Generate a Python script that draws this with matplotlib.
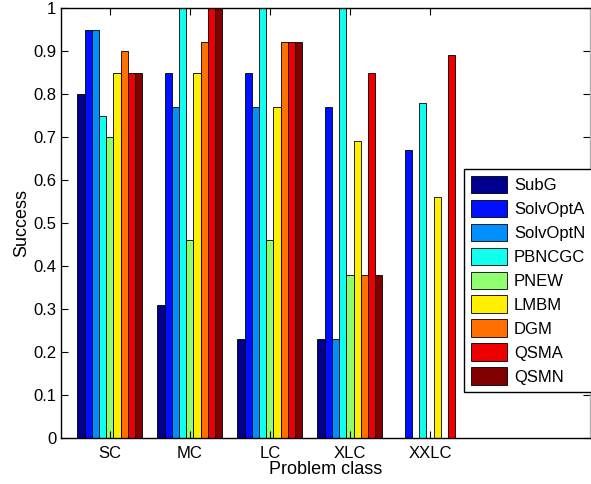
import numpy as np
import matplotlib
matplotlib.use('Agg')
import matplotlib.pyplot as plt

plt.rcParams['font.family'] = ['Liberation Sans', 'DejaVu Sans']

# problem classes and solvers
classes = ['SC', 'MC', 'LC', 'XLC', 'XXLC']
solvers = ['SubG', 'SolvOptA', 'SolvOptN', 'PBNCGC', 'PNEW', 'LMBM', 'DGM', 'QSMA', 'QSMN']

# success rate per solver, one value per class
subg     = [0.80, 0.31, 0.23, 0.23, 0.0]
solvopta = [0.95, 0.85, 0.85, 0.77, 0.67]
solvoptn = [0.95, 0.77, 0.77, 0.23, 0.0]
pbncgc   = [0.75, 1.00, 1.00, 1.00, 0.78]
pnew     = [0.70, 0.46, 0.46, 0.38, 0.0]
lmbm     = [0.85, 0.85, 0.77, 0.69, 0.56]
dgm      = [0.90, 0.92, 0.92, 0.38, 0.0]
qsma     = [0.85, 1.00, 0.92, 0.85, 0.89]
qsmn     = [0.85, 1.00, 0.92, 0.38, 0.0]

series = [subg, solvopta, solvoptn, pbncgc, pnew, lmbm, dgm, qsma, qsmn]

# MATLAB style jet(64) colours picked for 9 series
colors = [(0, 0, 0.5625), (0, 0.0625, 1), (0, 0.5625, 1), (0.0625, 1, 0.9375),
          (0.5625, 1, 0.4375), (1, 0.9375, 0), (1, 0.4375, 0), (0.9375, 0, 0),
          (0.5, 0, 0)]

fig = plt.figure(figsize=(5.91, 4.84), dpi=100)
ax = fig.add_axes([61/591, 1-438/484, 529/591, 430/484])

x = np.arange(1, len(classes) + 1)
w = 0.09
for i, (name, vals) in enumerate(zip(solvers, series)):
    offs = (i - (len(solvers) - 1) / 2) * w
    ax.bar(x + offs, vals, width=w, color=colors[i], edgecolor='black',
           linewidth=0.6, label=name)

ax.set_xlim(0.39, 7.0)
ax.set_ylim(0, 1)
ax.set_yticks(np.arange(0, 1.01, 0.1))
ax.set_yticklabels(['0'] + ['%.1f' % v for v in np.arange(0.1, 0.95, 0.1)] + ['1'])
ax.set_xticks(x)
ax.set_xticklabels(classes)
ax.tick_params(direction='in', length=5, width=0.8, labelsize=12,
               top=True, right=True, colors='black')
ax.tick_params(axis='x', pad=6)
for s in ax.spines.values():
    s.set_linewidth(1.0)
ax.spines['right'].set_color('#b0b0b0')

ax.set_xlabel('Problem class', fontsize=13, labelpad=0)
ax.set_ylabel('Success', fontsize=13, labelpad=2)

leg = ax.legend(loc='upper left', bbox_to_anchor=(464/591, 1-169/484),
                bbox_transform=fig.transFigure, borderaxespad=0,
                fontsize=12, handlelength=2.2, handleheight=1.25,
                labelspacing=0.38, handletextpad=0.4, borderpad=0.4,
                fancybox=False, framealpha=1)
leg.get_frame().set_edgecolor('black')
leg.get_frame().set_linewidth(1.0)

fig.savefig('out.png', dpi=100)
